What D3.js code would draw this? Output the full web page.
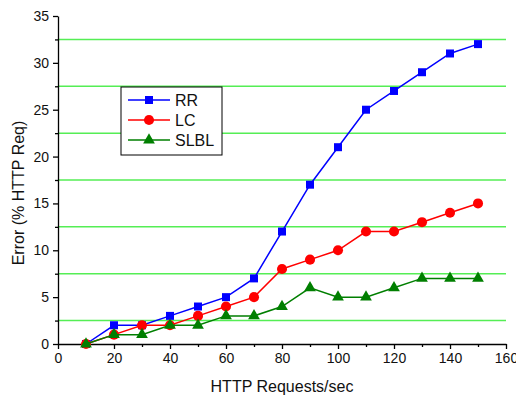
<!DOCTYPE html>
<html>
<head>
<meta charset="utf-8">
<script src="https://cdn.jsdelivr.net/npm/d3@7"></script>
<style>
  html, body { margin: 0; padding: 0; background: #fff; }
  svg { display: block; font-family: "Liberation Sans", Arial, sans-serif; }
</style>
</head>
<body>
<svg id="chart" width="516" height="395"></svg>
<script>
// Request rate (x) and error percentage for each balancing policy
const requests = [10, 20, 30, 40, 50, 60, 70, 80, 90, 100, 110, 120, 130, 140, 150];
const rrValues = [0, 2, 2, 3, 4, 5, 7, 12, 17, 21, 25, 27, 29, 31, 32];
const lcValues = [0, 1, 2, 2, 3, 4, 5, 8, 9, 10, 12, 12, 13, 14, 15];
const slblValues = [0, 1, 1, 2, 2, 3, 3, 4, 6, 5, 5, 6, 7, 7, 7];
const seriesNames = ["RR", "LC", "SLBL"];
const xTicks = [0, 20, 40, 60, 80, 100, 120, 140, 160];
const yTicks = [0, 5, 10, 15, 20, 25, 30, 35];
const gridLevels = [2.5, 7.5, 12.5, 17.5, 22.5, 27.5, 32.5];

const series = [
  { name: seriesNames[0], values: rrValues, color: "#0000ff", symbol: d3.symbolSquare, size: 64 },
  { name: seriesNames[1], values: lcValues, color: "#ff0000", symbol: d3.symbolCircle, size: 80 },
  { name: seriesNames[2], values: slblValues, color: "#007f00", symbol: d3.symbolTriangle, size: 60 }
];

const svg = d3.select("#chart");
const m = { left: 58, top: 16, right: 506, bottom: 344 };

const x = d3.scaleLinear().domain([0, 160]).range([m.left, m.right]);
const y = d3.scaleLinear().domain([0, 35]).range([m.bottom, m.top]);

// horizontal green reference lines at the half-step levels
svg.append("g").selectAll("line").data(gridLevels).join("line")
  .attr("x1", m.left).attr("x2", m.right)
  .attr("y1", d => y(d)).attr("y2", d => y(d))
  .attr("stroke", "#55ee55").attr("stroke-width", 1.5);

// axes: major ticks with labels, minor ticks in between
svg.append("g").attr("transform", `translate(0,${m.bottom})`)
  .call(d3.axisBottom(x).tickValues(xTicks).tickSize(5).tickSizeOuter(0).tickPadding(4));
svg.append("g").attr("transform", `translate(0,${m.bottom})`)
  .call(d3.axisBottom(x).tickValues(d3.range(10, 160, 20)).tickSize(3).tickSizeOuter(0).tickFormat(""))
  .select(".domain").remove();

svg.append("g").attr("transform", `translate(${m.left},0)`)
  .call(d3.axisLeft(y).tickValues(yTicks).tickSize(5).tickSizeOuter(0).tickPadding(4));
svg.append("g").attr("transform", `translate(${m.left},0)`)
  .call(d3.axisLeft(y).tickValues(gridLevels).tickSize(3).tickSizeOuter(0).tickFormat(""))
  .select(".domain").remove();

svg.selectAll(".domain, .tick line").attr("stroke", "#000").attr("stroke-width", 1.3);
svg.selectAll(".tick text").attr("font-size", 14).attr("fill", "#111")
  .attr("font-family", "'Liberation Sans', Arial, sans-serif");

// axis titles
svg.append("text").attr("x", 282).attr("y", 392)
  .attr("text-anchor", "middle").attr("font-size", 16).attr("fill", "#111")
  .text("HTTP Requests/sec");
svg.append("text")
  .attr("transform", "translate(24,193) rotate(-90)")
  .attr("text-anchor", "middle").attr("font-size", 16).attr("fill", "#111")
  .text("Error (% HTTP Req)");

// lines and markers
const line = d3.line().x((d, i) => x(requests[i])).y(d => y(d));
series.forEach(s => {
  const g = svg.append("g");
  g.append("path").datum(s.values).attr("d", line)
    .attr("fill", "none").attr("stroke", s.color).attr("stroke-width", 1.5);
  g.selectAll("path.pt").data(s.values).join("path").attr("class", "pt")
    .attr("transform", (d, i) => `translate(${x(requests[i])},${y(d)})`)
    .attr("d", d3.symbol(s.symbol, s.size))
    .attr("fill", s.color);
});

// legend
const lg = svg.append("g").attr("transform", "translate(121,87)");
lg.append("rect").attr("width", 101).attr("height", 68)
  .attr("fill", "#fff").attr("stroke", "#000").attr("stroke-width", 1);
series.forEach((s, i) => {
  const cy = 13 + i * 20;
  lg.append("line").attr("x1", 7).attr("x2", 49).attr("y1", cy).attr("y2", cy)
    .attr("stroke", s.color).attr("stroke-width", 1.5);
  lg.append("path").attr("transform", `translate(28,${cy})`)
    .attr("d", d3.symbol(s.symbol, s.size)).attr("fill", s.color);
  lg.append("text").attr("x", 54).attr("y", cy + 6)
    .attr("font-size", 16).attr("fill", "#111").text(s.name);
});
</script>
</body>
</html>
